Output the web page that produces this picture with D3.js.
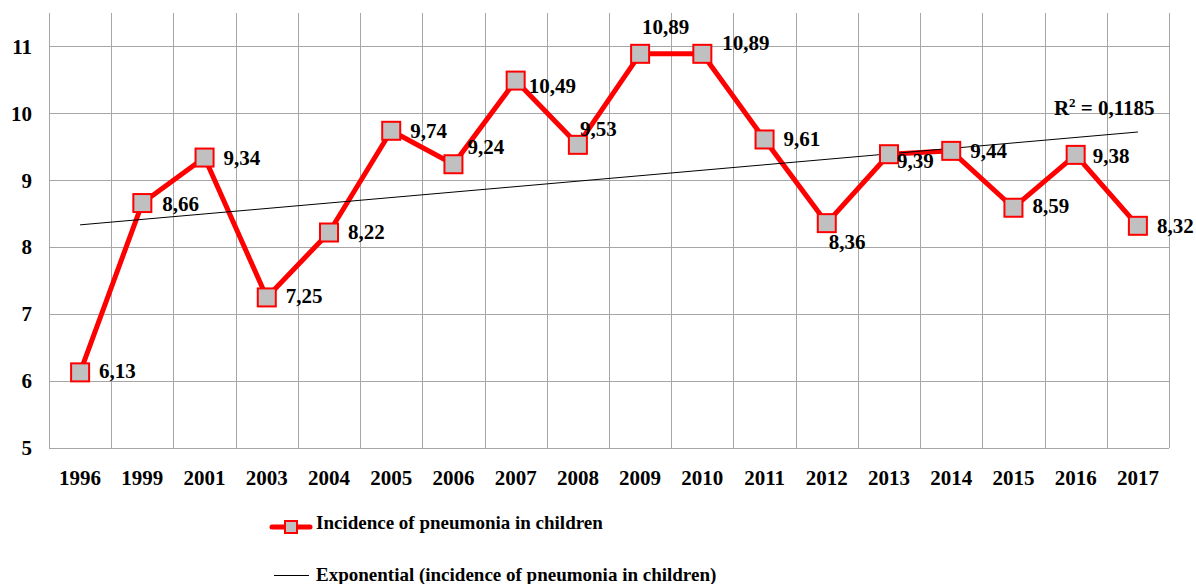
<!DOCTYPE html>
<html lang="en">
  <head>
    <meta charset="utf-8" />
    <title>Incidence of pneumonia in children</title>
    <script type="text/javascript" src="https://d3js.org/d3.v7.min.js"></script>
    <style>
      body {
        margin: 0;
        background: #fff;
      }
      text {
        font-family: "Liberation Serif", "Times New Roman", serif;
        font-weight: bold;
        fill: #000;
      }
      .grid line {
        stroke: #a6a6a6;
        stroke-width: 1px;
      }
      path.linha {
        fill: none;
        stroke: #ff0000;
        stroke-width: 5px;
        stroke-linejoin: round;
      }
      path.trend {
        fill: none;
        stroke: #000;
        stroke-width: 1px;
      }
      rect.marker {
        fill: #c0c0c0;
        stroke: #ff0000;
        stroke-width: 2px;
      }
    </style>
  </head>
  <body>
    <script>
      let w = 1196;
      let h = 584;
      let margin = { top: 13, right: 27, bottom: 136, left: 49 };

      let years = ["1996", "1999", "2001", "2003", "2004", "2005", "2006", "2007", "2008",
        "2009", "2010", "2011", "2012", "2013", "2014", "2015", "2016", "2017"];
      let incidence = [6.13, 8.66, 9.34, 7.25, 8.22, 9.74, 9.24, 10.49, 9.53,
        10.89, 10.89, 9.61, 8.36, 9.39, 9.44, 8.59, 9.38, 8.32];
      let yTicks = [5, 6, 7, 8, 9, 10, 11];
      let r2Label = "0,1185";
      let seriesName = "Incidence of pneumonia in children";
      let trendName = "Exponential (incidence of pneumonia in children)";

      // where each value label sits relative to its marker [dx, dy]
      let labelOffset = [
        [19, 6], [20, 8], [19, 7], [19, 6], [19, 6], [19, 7], [14, -10], [13, 12], [2, -9],
        [2, -20], [20, -4], [19, 7], [2, 26], [8, 14], [19, 7], [19, 5], [17, 8], [19, 7]
      ];

      let svg = d3.select("body").append("svg").attr("width", w).attr("height", h);

      let x = d3.scaleBand().domain(years).range([margin.left, w - margin.right]);
      let y = d3.scaleLinear().domain([5, 11.5]).range([h - margin.bottom, margin.top]);

      // grid
      let grid = svg.append("g").attr("class", "grid");
      grid.selectAll("line.h")
        .data(yTicks)
        .join("line")
        .attr("class", "h")
        .attr("x1", margin.left)
        .attr("x2", w - margin.right)
        .attr("y1", (d) => Math.round(y(d)) + 0.5)
        .attr("y2", (d) => Math.round(y(d)) + 0.5);
      let bounds = years.map((d) => x(d)).concat([w - margin.right]);
      grid.selectAll("line.v")
        .data(bounds)
        .join("line")
        .attr("class", "v")
        .attr("x1", (d) => Math.round(d) + 0.5)
        .attr("x2", (d) => Math.round(d) + 0.5)
        .attr("y1", margin.top)
        .attr("y2", h - margin.bottom);

      // axes labels
      let y_axis = d3.axisLeft(y).tickValues(yTicks).tickFormat(d3.format("d")).tickSize(0).tickPadding(17);
      svg.append("g")
        .attr("class", "y axis")
        .attr("transform", `translate(${margin.left},0)`)
        .call(y_axis)
        .call((g) => g.select(".domain").remove())
        .selectAll("text")
        .style("font-size", "21px");

      let x_axis = d3.axisBottom(x).tickSize(0).tickPadding(22);
      svg.append("g")
        .attr("class", "x axis")
        .attr("transform", `translate(0,${h - margin.bottom})`)
        .call(x_axis)
        .call((g) => g.select(".domain").remove())
        .selectAll("text")
        .style("font-size", "21px");

      // exponential trend fitted on the series (ln y = a + b*i)
      let idx = incidence.map((d, i) => i + 1);
      let ly = incidence.map((d) => Math.log(d));
      let mx = d3.mean(idx), my = d3.mean(ly);
      let b = d3.sum(idx, (d, i) => (d - mx) * (ly[i] - my)) / d3.sum(idx, (d) => (d - mx) ** 2);
      let a = my - b * mx;
      let trend = years.map((d, i) => ({ year: d, v: Math.exp(a + b * (i + 1)) }));

      let cx = (d) => x(d) + x.bandwidth() / 2;

      let line = d3.line().x((d) => cx(d.year)).y((d) => y(d.v));
      svg.append("path")
        .attr("class", "linha")
        .attr("d", line(years.map((d, i) => ({ year: d, v: incidence[i] }))));

      svg.append("path")
        .attr("class", "trend")
        .attr("d", line([trend[0], trend[trend.length - 1]]));

      svg.selectAll("rect.marker")
        .data(incidence)
        .join("rect")
        .attr("class", "marker")
        .attr("x", (d, i) => cx(years[i]) - 9)
        .attr("y", (d) => y(d) - 9)
        .attr("width", 18)
        .attr("height", 18);

      svg.selectAll("text.val")
        .data(incidence)
        .join("text")
        .attr("class", "val")
        .attr("x", (d, i) => cx(years[i]) + labelOffset[i][0])
        .attr("y", (d, i) => y(d) + labelOffset[i][1])
        .style("font-size", "21px")
        .text((d) => d.toFixed(2).replace(".", ","));

      // R squared
      let r2 = svg.append("text")
        .attr("x", cx(years[years.length - 1]) - 84)
        .attr("y", 115)
        .style("font-size", "21px");
      r2.append("tspan").text("R");
      r2.append("tspan").attr("dy", -8).style("font-size", "13px").text("2");
      r2.append("tspan").attr("dy", 8).text(" = " + r2Label);

      // legend
      let leg = svg.append("g");
      leg.append("line")
        .attr("x1", 272).attr("x2", 310)
        .attr("y1", 527).attr("y2", 527)
        .attr("stroke", "#ff0000").attr("stroke-width", 5).attr("stroke-linecap", "round");
      leg.append("rect")
        .attr("class", "marker")
        .attr("x", 285).attr("y", 521)
        .attr("width", 12).attr("height", 12);
      leg.append("text").attr("x", 316).attr("y", 529).style("font-size", "19px").text(seriesName);
      leg.append("line")
        .attr("x1", 274).attr("x2", 309)
        .attr("y1", 575.5).attr("y2", 575.5)
        .attr("stroke", "#000").attr("stroke-width", 1);
      leg.append("text").attr("x", 316).attr("y", 581).style("font-size", "19px").text(trendName);
    </script>
  </body>
</html>
